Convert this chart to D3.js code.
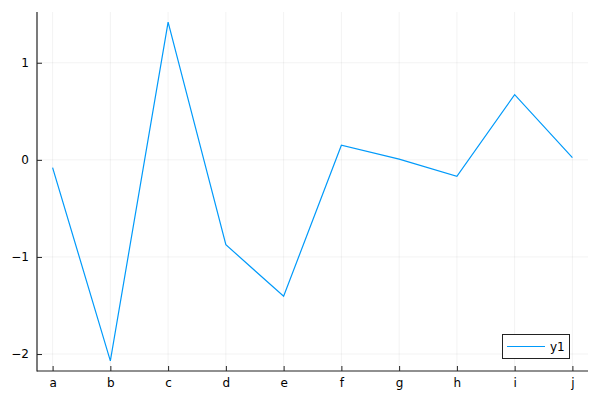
<!DOCTYPE html>
<html><head><meta charset="utf-8">
<script src="https://cdn.jsdelivr.net/npm/d3@7"></script>
<style>body{margin:0;background:#fff}svg{display:block}</style>
</head><body>
<svg id="c" width="600" height="400"></svg>
<script>
const categories = ["a","b","c","d","e","f","g","h","i","j"];
const values = [-0.08, -2.07, 1.418, -0.874, -1.405, 0.151, 0.008, -0.17, 0.672, 0.022];
const yTicks = [-2, -1, 0, 1];
const seriesName = "y1";

const svg = d3.select("#c");
const L = 37, R = 588, T = 12, B = 371;
const n = categories.length;
const xpad = (n - 1) * 0.03;
const x = d3.scaleLinear().domain([1 - xpad, n + xpad]).range([L, R]);
const ymin = d3.min(values), ymax = d3.max(values), yp = (ymax - ymin) * 0.03;
const y = d3.scaleLinear().domain([ymin - yp, ymax + yp]).range([B, T]);
const font = "DejaVu Sans, sans-serif";

// grid
const g = svg.append("g");
g.selectAll(".gx").data(categories).enter().append("line")
  .attr("x1", (d,i)=>x(i+1)).attr("x2", (d,i)=>x(i+1))
  .attr("y1", T).attr("y2", B).attr("stroke", "#000").attr("stroke-opacity", 0.1).attr("stroke-width", 0.5);
g.selectAll(".gy").data(yTicks).enter().append("line")
  .attr("x1", L).attr("x2", R).attr("y1", d=>y(d)).attr("y2", d=>y(d))
  .attr("stroke", "#000").attr("stroke-opacity", 0.1).attr("stroke-width", 0.5);

// axes
const xAxis = d3.axisBottom(x).tickValues(d3.range(1, n+1)).tickFormat(i=>categories[i-1]).tickSizeInner(-5).tickSizeOuter(0).tickPadding(7);
const yAxis = d3.axisLeft(y).tickValues(yTicks).tickFormat(d=>d<0 ? "\u2212"+Math.abs(d) : String(d)).tickSizeInner(-5).tickSizeOuter(0).tickPadding(8);
const gx = svg.append("g").attr("transform", `translate(0,${B})`).call(xAxis);
const gy = svg.append("g").attr("transform", `translate(${L},0)`).call(yAxis);
[gx, gy].forEach(a=>{
  a.select(".domain").remove();
  a.selectAll(".tick line").attr("stroke", "#222").attr("stroke-width", 1);
  a.selectAll(".tick text").attr("font-family", font).attr("font-size", 12).attr("fill", "#000");
});
gx.selectAll(".tick text").attr("dy", "0.71em");
svg.append("line").attr("x1", L).attr("x2", L).attr("y1", T).attr("y2", B+0.5).attr("stroke", "#222").attr("stroke-width", 1.2);
svg.append("line").attr("x1", L).attr("x2", R).attr("y1", B).attr("y2", B).attr("stroke", "#222").attr("stroke-width", 1.2);

// line
svg.append("path").datum(values)
  .attr("d", d3.line().x((d,i)=>x(i+1)).y(d=>y(d)))
  .attr("fill", "none").attr("stroke", "#009afa").attr("stroke-width", 1.2);

// legend
const lg = svg.append("g");
lg.append("rect").attr("x", 502.5).attr("y", 334.5).attr("width", 67).attr("height", 24)
  .attr("fill", "#fff").attr("stroke", "#222").attr("stroke-width", 1);
lg.append("line").attr("x1", 507).attr("x2", 545).attr("y1", 346.5).attr("y2", 346.5)
  .attr("stroke", "#009afa").attr("stroke-width", 1.2);
lg.append("text").attr("x", 550).attr("y", 346.5).attr("dy", "0.35em")
  .attr("font-family", font).attr("font-size", 12).text(seriesName);
</script>
</body></html>
